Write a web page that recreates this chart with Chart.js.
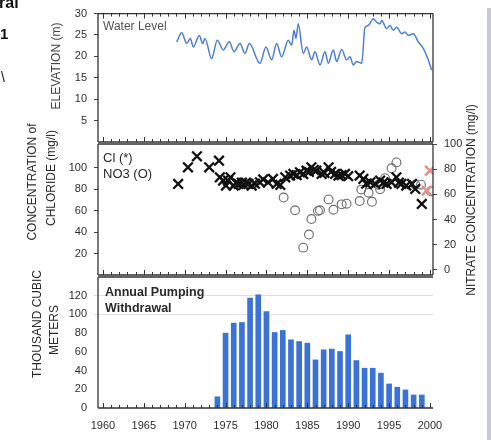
<!DOCTYPE html>
<html>
<head>
<meta charset="utf-8">
<script src="https://cdn.jsdelivr.net/npm/chart.js@4.4.1/dist/chart.umd.min.js"></script>
<style>
  body { margin: 0; background: #fff; }
  #wrap { position: relative; width: 491px; height: 440px; overflow: hidden; font-family: 'Liberation Sans', Arial, sans-serif; }
  #wrap canvas { position: absolute; left: 0; top: 0; }
  .t { position: absolute; white-space: nowrap; line-height: 1; color: #2a2a2a; }
  .rot { transform: translate(-50%, -50%) rotate(-90deg); }
  #band { position: absolute; left: 487px; top: 8px; width: 4px; height: 432px; background: #c9c9d3; }
</style>
</head>
<body>
<div id="wrap">
  <canvas id="levelChart" width="491" height="440"></canvas>
  <canvas id="chemChart" width="491" height="440"></canvas>
  <canvas id="pumpChart" width="491" height="440"></canvas>

  <div class="t" style="left:-1px;top:-5px;font-size:16px;font-weight:bold;color:#111">ral</div>
  <div class="t" style="left:0px;top:26px;font-size:15px;font-weight:bold;color:#111">1</div>
  <div class="t" style="left:1px;top:70px;font-size:14px;color:#111">\</div>

  <div class="t rot" style="left:56px;top:66px;font-size:12px;color:#444">ELEVATION (m)</div>
  <div class="t rot" style="left:32px;top:182px;font-size:12px">CONCENTRATION of</div>
  <div class="t rot" style="left:51px;top:178px;font-size:12px">CHLORIDE (mg/l)</div>
  <div class="t rot" style="left:37px;top:324px;font-size:12px">THOUSAND CUBIC</div>
  <div class="t rot" style="left:54px;top:330px;font-size:12px">METERS</div>
  <div class="t rot" style="left:471px;top:200px;font-size:12px">NITRATE CONCENTRATION (mg/l)</div>

  <div class="t" style="left:103px;top:20px;font-size:12px;color:#555">Water Level</div>
  <div class="t" style="left:103px;top:151px;font-size:13px">Cl (*)</div>
  <div class="t" style="left:103px;top:167px;font-size:13px">NO3 (O)</div>
  <div class="t" style="left:105px;top:286px;font-size:12.5px;font-weight:bold">Annual Pumping</div>
  <div class="t" style="left:105px;top:302px;font-size:12.5px;font-weight:bold">Withdrawal</div>
  <div id="band"></div>
</div>
<script>
// water level (m)
const levelYears = [1969.02, 1969.64, 1970.25, 1970.7, 1971.05, 1971.79, 1972.2, 1972.48, 1973.3, 1973.99,
  1974.72, 1975.46, 1976.03, 1976.76, 1977.38, 1977.9, 1979.21, 1979.94, 1980.64, 1981.25,
  1981.86, 1982.67, 1983.09, 1983.37, 1983.61, 1983.89, 1984.5, 1984.92, 1985.53, 1985.94,
  1986.55, 1987.16, 1987.56, 1988.17, 1988.59, 1989.2, 1989.81, 1990.22, 1990.62, 1991.03,
  1991.65, 1992.05, 1992.45, 1993.06, 1993.48, 1993.88, 1994.09, 1994.7, 1995.11, 1995.51,
  1995.93, 1996.54, 1996.94, 1997.34, 1997.96, 1998.57, 1999.18, 1999.79, 2000.2];
const levelValues = [23.4, 25.5, 23.0, 24.2, 22.2, 24.9, 23.0, 24.2, 19.5, 23.8,
  21.5, 23.4, 21.1, 23.0, 20.7, 23.0, 18.4, 22.2, 19.2, 23.0,
  19.9, 23.8, 22.6, 26.1, 24.2, 27.6, 20.7, 22.2, 19.2, 21.1,
  18.0, 21.1, 18.4, 21.5, 18.8, 21.6, 19.2, 19.9, 18.0, 18.8,
  18.4, 26.8, 27.2, 28.8, 28.0, 27.6, 28.4, 26.5, 27.2, 26.1,
  26.8, 25.3, 25.7, 24.9, 25.3, 23.4, 21.9, 19.2, 16.8];

// chloride (mg/l), left axis
const clYears = [1969.2, 1970.4, 1971.5, 1973.0, 1974.2, 1974.3, 1974.7, 1975.05, 1975.3, 1975.6,
  1976.0, 1976.3, 1976.6, 1977.0, 1977.2, 1977.5, 1977.8, 1978.2, 1978.6, 1979.2,
  1979.6, 1980.2, 1980.8, 1981.25, 1981.7, 1982.3, 1982.9, 1983.3, 1983.7, 1984.1,
  1984.5, 1984.9, 1985.2, 1985.5, 1985.8, 1986.1, 1986.75, 1987.1, 1987.6, 1987.9,
  1988.4, 1988.8, 1989.2, 1989.6, 1990.0, 1991.4, 1991.85, 1992.2, 1992.7, 1993.3,
  1993.9, 1994.3, 1994.7, 1995.3, 1995.9, 1996.2, 1996.5, 1997.1, 1997.8, 1998.2, 1999.0];
const clValues = [84.8, 100.3, 110.5, 100.3, 106.5, 91, 88, 83.3, 88, 91,
  83.3, 86, 84.8, 86, 83.9, 86, 84.8, 83.3, 85, 86.3,
  89, 86.3, 89.5, 84.8, 83.9, 91, 92.6, 94.1, 93, 95.6,
  94, 97.2, 96, 100.3, 98, 97.2, 94.1, 95, 100.3, 96,
  94.1, 92.6, 93, 94.1, 92, 92.6, 89.5, 85, 86.3, 84.8,
  87.9, 86, 84.8, 86.3, 91, 86, 84.8, 83.3, 84.8, 80.2, 66.2];
const clRedYears = [1999.6, 2000.0];
const clRedValues = [78.6, 97.2];

// nitrate (mg/l), right axis
const no3Years = [1982.1, 1983.5, 1984.5, 1985.2, 1985.5, 1986.3, 1986.55, 1987.6, 1988.2, 1989.2,
  1989.8, 1991.4, 1991.6, 1992.5, 1992.9, 1993.7, 1993.9, 1994.5, 1995.3, 1995.9,
  1998.2, 1998.9, 2000.1];
const no3Values = [57.5, 47.4, 17.7, 28.1, 40.4, 46.9, 47.4, 56, 47.8, 52.1,
  52.6, 54.7, 63.8, 61.3, 54.1, 67.7, 64, 72.9, 80.7, 85.4,
  67.7, 67.7, 62.5];

// annual pumping withdrawal (thousand cubic meters)
const pumpYears = [1974, 1975, 1976, 1977, 1978, 1979, 1980, 1981, 1982, 1983, 1984, 1985, 1986,
  1987, 1988, 1989, 1990, 1991, 1992, 1993, 1994, 1995, 1996, 1997, 1998, 1999];
const pumpValues = [12, 80, 90.7, 91.4, 117.5, 121, 103, 80.7, 82.9, 72.9, 71, 69.3, 51.4,
  62.2, 62.9, 60.4, 78.2, 50.7, 42.5, 42.5, 37.2, 25.7, 22.2, 19.3, 13.9, 13.9];

const yearTicks = [1960, 1965, 1970, 1975, 1980, 1985, 1990, 1995, 2000];
const elevTicks = [5, 10, 15, 20, 25, 30];
const chlorideTicks = [20, 40, 60, 80, 100];
const nitrateTicks = [0, 20, 40, 60, 80, 100];
const pumpTicks = [0, 20, 40, 60, 80, 100, 120];

const pts = (xs, ys) => xs.map((x, i) => ({ x: x, y: ys[i] }));
const tickFont = { family: "'Liberation Sans', Arial, sans-serif", size: 11 };
const tickColor = '#2e2e2e';

// frame round the plot area, with small inward year ticks
const framePlugin = {
  id: 'frame',
  afterDraw(chart, args, opts) {
    const { ctx, chartArea: a } = chart;
    const x = chart.scales.x;
    ctx.save();
    ctx.strokeStyle = '#333';
    ctx.lineWidth = 1.3;
    ctx.beginPath();
    ctx.moveTo(a.left, a.top); ctx.lineTo(a.right, a.top);
    ctx.moveTo(a.left, a.bottom); ctx.lineTo(a.right, a.bottom);
    ctx.moveTo(a.left, a.top); ctx.lineTo(a.left, a.bottom);
    if (opts.right !== false) { ctx.moveTo(a.right, a.top); ctx.lineTo(a.right, a.bottom); }
    ctx.stroke();
    ctx.lineWidth = 1;
    ctx.beginPath();
    for (let yr = 1960; yr <= 2000; yr++) {
      const px = Math.round(x.getPixelForValue(yr)) + 0.5;
      const len = yr % 5 === 0 ? 5 : 3;
      if (opts.tickTop) { ctx.moveTo(px, a.top); ctx.lineTo(px, a.top + len); }
      if (opts.tickBottom) { ctx.moveTo(px, a.bottom); ctx.lineTo(px, a.bottom - len); }
    }
    ctx.stroke();
    ctx.restore();
  }
};

const xHidden = { type: 'linear', min: 1959.4, max: 2000.37, display: false, offset: false };
const yLeft = (min, max, list) => ({
  type: 'linear', position: 'left', min: min, max: max,
  afterBuildTicks: s => { s.ticks = list.map(v => ({ value: v })); },
  afterFit: s => { s.width = 98; },
  ticks: { font: tickFont, color: tickColor, padding: 7 },
  grid: { drawOnChartArea: false, tickLength: 4, color: '#444' },
  border: { display: false }
});

new Chart(document.getElementById('levelChart'), {
  type: 'line',
  data: {
    datasets: [{
      label: 'Water Level',
      data: pts(levelYears, levelValues),
      borderColor: '#4d7fd4',
      borderWidth: 1.5,
      pointRadius: 0,
      cubicInterpolationMode: 'monotone',
      fill: false
    }]
  },
  options: {
    responsive: false, animation: false,
    layout: { padding: { top: 13, right: 58, bottom: 298, left: 0 } },
    plugins: { legend: { display: false }, tooltip: { enabled: false }, frame: { tickTop: true, tickBottom: true } },
    scales: { x: xHidden, y: yLeft(0, 30, elevTicks) }
  },
  plugins: [framePlugin]
});

new Chart(document.getElementById('chemChart'), {
  type: 'scatter',
  data: {
    datasets: [
      {
        label: 'Cl', yAxisID: 'y',
        data: pts(clYears, clValues),
        pointStyle: 'crossRot', pointRadius: 6.8, borderColor: '#111', borderWidth: 2.3
      },
      {
        label: 'Cl 2000', yAxisID: 'y',
        data: pts(clRedYears, clRedValues),
        pointStyle: 'crossRot', pointRadius: 6.8, borderColor: '#ec8a86', borderWidth: 2.4
      },
      {
        label: 'NO3', yAxisID: 'y2',
        data: pts(no3Years, no3Values),
        pointStyle: 'circle', pointRadius: 4.4, borderColor: '#6a6a6a', backgroundColor: 'rgba(0,0,0,0)', borderWidth: 1.1
      }
    ]
  },
  options: {
    responsive: false, animation: false,
    layout: { padding: { top: 144, right: 0, bottom: 165, left: 0 } },
    plugins: { legend: { display: false }, tooltip: { enabled: false }, frame: { tickTop: false, tickBottom: true } },
    scales: {
      x: xHidden,
      y: yLeft(0, 122, chlorideTicks),
      y2: {
        type: 'linear', position: 'right', min: -4, max: 100,
        afterBuildTicks: s => { s.ticks = nitrateTicks.map(v => ({ value: v })); },
        afterFit: s => { s.width = 58; },
        ticks: { font: tickFont, color: tickColor, padding: 7 },
        grid: { drawOnChartArea: false, tickLength: 4, color: '#444' },
        border: { display: false }
      }
    }
  },
  plugins: [framePlugin]
});

new Chart(document.getElementById('pumpChart'), {
  type: 'bar',
  data: {
    datasets: [{
      label: 'Annual Pumping Withdrawal',
      data: pts(pumpYears, pumpValues),
      backgroundColor: '#3a72d8',
      barThickness: 5
    }]
  },
  options: {
    responsive: false, animation: false,
    layout: { padding: { top: 277, right: 58, bottom: 0, left: 0 } },
    plugins: { legend: { display: false }, tooltip: { enabled: false }, frame: { tickTop: false, tickBottom: true, right: false } },
    scales: {
      x: {
        type: 'linear', min: 1959.4, max: 2000.37, offset: false,
        afterBuildTicks: s => { s.ticks = yearTicks.map(v => ({ value: v })); },
        afterFit: s => { s.height = 32; },
        ticks: { font: tickFont, color: tickColor, padding: 11, maxRotation: 0, callback: v => String(v) },
        grid: { display: false, drawTicks: false },
        border: { display: false }
      },
      y: Object.assign(yLeft(0, 140, pumpTicks), {
        grid: {
          drawOnChartArea: true, tickLength: 4,
          color: c => (c.tick && c.tick.value >= 100 ? 'rgba(0,0,0,0.13)' : 'rgba(0,0,0,0)')
        }
      })
    }
  },
  plugins: [framePlugin]
});
</script>
</body>
</html>
